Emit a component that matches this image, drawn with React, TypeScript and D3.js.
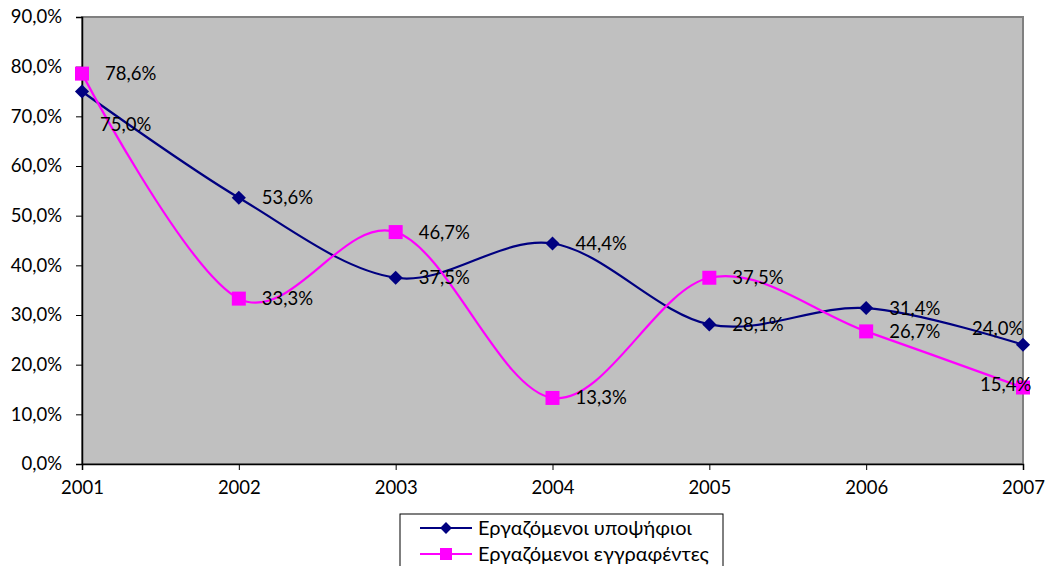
import { useRef, useEffect } from "react";
import * as d3 from "d3";

const years = ["2001", "2002", "2003", "2004", "2005", "2006", "2007"];
const candidates = [75.0, 53.6, 37.5, 44.4, 28.1, 31.4, 24.0];
const enrolled = [78.6, 33.3, 46.7, 13.3, 37.5, 26.7, 15.4];
const yTicks = [0, 10, 20, 30, 40, 50, 60, 70, 80, 90];
const seriesNames = ["Εργαζόμενοι υποψήφιοι", "Εργαζόμενοι εγγραφέντες"];

const fmt = (v: number) => v.toFixed(1).replace(".", ",") + "%";

const App = () => {
  const ref = useRef<SVGSVGElement>(null);

  useEffect(() => {
    document.body.style.margin = "0";
    const svg = d3.select(ref.current);
    svg.selectAll("*").remove();

    const font = "Lato, 'Open Sans', sans-serif";
    const fs = 18.5;
    const left = 82;
    const right = 1023;
    const top = 17;
    const bottom = 464;

    const x = d3.scalePoint<string>().domain(years).range([left, right]);
    const y = d3.scaleLinear().domain([0, 90]).range([bottom, top]);

    // plot area
    svg
      .append("rect")
      .attr("x", left)
      .attr("y", top)
      .attr("width", right - left)
      .attr("height", bottom - top)
      .attr("fill", "#c0c0c0")
      .attr("stroke", "#808080")
      .attr("stroke-width", 2);

    // y axis
    const yAxis = svg
      .append("g")
      .attr("transform", `translate(${left},0)`)
      .call(
        d3
          .axisLeft(y)
          .tickValues(yTicks)
          .tickSize(6)
          .tickPadding(14)
          .tickFormat(d => fmt(d as number))
      );
    yAxis.select(".domain").attr("stroke", "#000").attr("stroke-width", 1.5);
    yAxis.selectAll(".tick line").attr("stroke", "#000");
    yAxis
      .selectAll("text")
      .attr("font-family", font)
      .attr("font-size", fs)
      .attr("fill", "#000");

    // x axis
    const xAxis = svg
      .append("g")
      .attr("transform", `translate(0,${bottom})`)
      .call(d3.axisBottom(x).tickSize(6).tickPadding(11));
    xAxis.select(".domain").attr("stroke", "#000").attr("stroke-width", 1.5);
    xAxis.selectAll(".tick line").attr("stroke", "#000");
    xAxis
      .selectAll("text")
      .attr("font-family", font)
      .attr("font-size", fs)
      .attr("fill", "#000");

    const line = d3
      .line<number>()
      .x((_d, i) => x(years[i]) as number)
      .y(d => y(d))
      .curve(d3.curveCardinal.tension(0));

    const series = [
      { values: candidates, color: "#000080", marker: "diamond" },
      { values: enrolled, color: "#ff00ff", marker: "square" },
    ];

    // label offsets (dx, dy) relative to the point
    const labelOffsets: Record<string, [number, number]> = {
      "0-0": [18, 33],
      "0-6": [-51, -16],
      "1-6": [-43, -3],
    };

    series.forEach(s => {
      svg
        .append("path")
        .attr("d", line(s.values) as string)
        .attr("fill", "none")
        .attr("stroke", s.color)
        .attr("stroke-width", 2.2);
    });

    series.forEach(s => {
      const g = svg.append("g");
      s.values.forEach((v, i) => {
        const px = x(years[i]) as number;
        const py = y(v);
        if (s.marker === "diamond") {
          g.append("path")
            .attr("d", d3.symbol(d3.symbolSquare, 100)())
            .attr("transform", `translate(${px},${py}) rotate(45)`)
            .attr("fill", s.color);
        } else {
          g.append("rect")
            .attr("x", px - 7)
            .attr("y", py - 7)
            .attr("width", 14)
            .attr("height", 14)
            .attr("fill", s.color);
        }
      });
    });

    series.forEach((s, si) => {
      s.values.forEach((v, i) => {
        const px = x(years[i]) as number;
        const py = y(v);
        const off = labelOffsets[`${si}-${i}`] || [23, 0];
        svg
          .append("text")
          .attr("x", px + off[0])
          .attr("y", py + off[1])
          .attr("dy", "0.35em")
          .attr("font-family", font)
          .attr("font-size", fs)
          .attr("fill", "#000")
          .text(fmt(v));
      });
    });

    // legend
    const lg = svg.append("g");
    lg.append("rect")
      .attr("x", 400)
      .attr("y", 514)
      .attr("width", 323)
      .attr("height", 60)
      .attr("fill", "#fff")
      .attr("stroke", "#000")
      .attr("stroke-width", 1);
    series.forEach((s, si) => {
      const ly = 528 + si * 26;
      lg.append("line")
        .attr("x1", 420)
        .attr("x2", 472)
        .attr("y1", ly)
        .attr("y2", ly)
        .attr("stroke", s.color)
        .attr("stroke-width", 2.2);
      if (s.marker === "diamond") {
        lg.append("path")
          .attr("d", d3.symbol(d3.symbolSquare, 70)())
          .attr("transform", `translate(446,${ly}) rotate(45)`)
          .attr("fill", s.color);
      } else {
        lg.append("rect")
          .attr("x", 440)
          .attr("y", ly - 6)
          .attr("width", 12)
          .attr("height", 12)
          .attr("fill", s.color);
      }
      lg.append("text")
        .attr("x", 478)
        .attr("y", ly)
        .attr("dy", "0.35em")
        .attr("font-family", font)
        .attr("font-size", 20)
        .attr("fill", "#000")
        .text(seriesNames[si]);
    });
  }, []);

  return <svg ref={ref} width={1046} height={566} style={{ display: "block" }} />;
};

export default App;
